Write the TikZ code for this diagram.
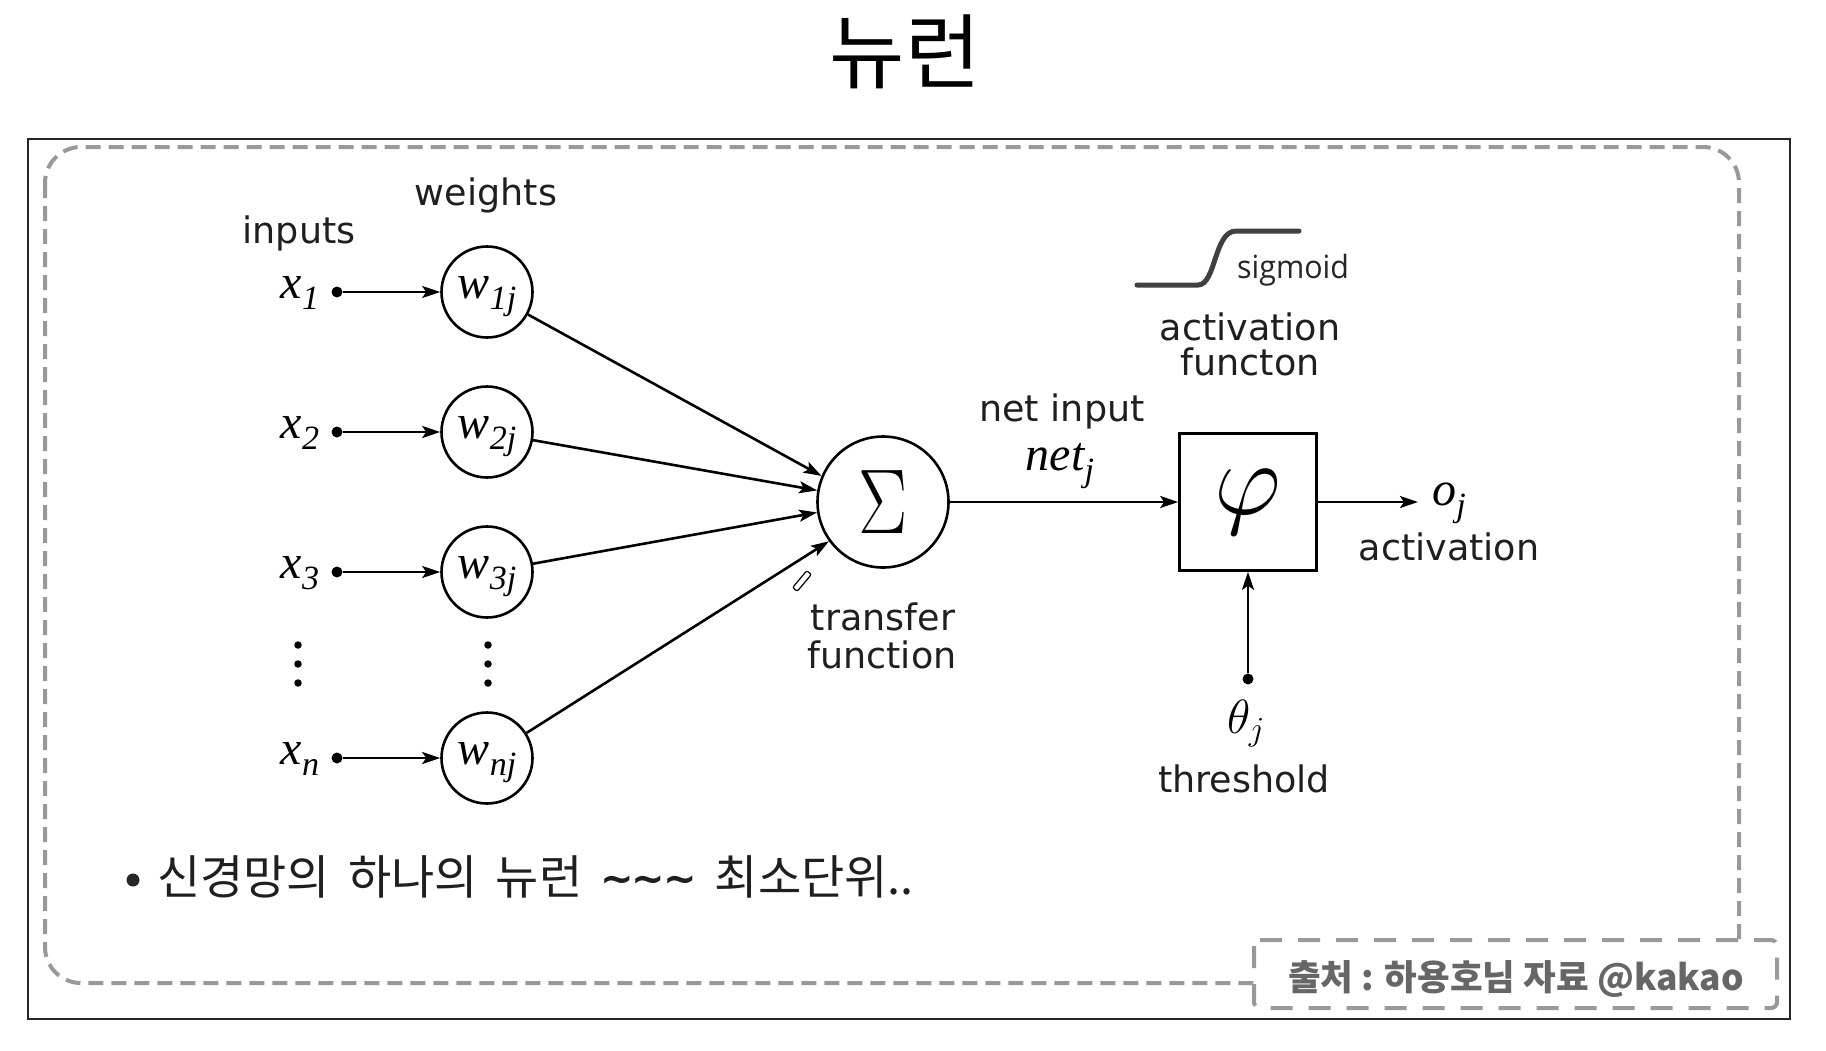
\RequirePackage{fix-cm}
\documentclass[tikz,border=0pt]{standalone}
\usepackage{fontspec}
\setmainfont{DejaVu Sans}
\newfontfamily\krfont{Noto Sans CJK KR}
\newfontfamily\osans{Open Sans}
\newfontfamily\tms{Liberation Serif}
\newcommand{\lab}[2]{{\tms\itshape #1\raisebox{-11pt}{\fontsize{34}{36}\selectfont #2}}}
\usetikzlibrary{arrows.meta}
\tikzset{
  lbl/.style={font=\fontsize{36.5}{40}\selectfont, text=black!88, anchor=base, inner sep=0pt},
  mth/.style={font=\fontsize{48}{50}\selectfont, anchor=base, inner sep=0pt},
  wcirc/.style={circle, draw, line width=2.6pt, minimum size=91pt, inner sep=0pt},
  dotn/.style={circle, fill, inner sep=0pt, minimum size=11pt},
  vdotn/.style={circle, fill, inner sep=0pt, minimum size=7.5pt},
  arr/.style={line width=2.6pt, -{Stealth[length=18pt,width=12pt,inset=4pt]}},
  bigdash/.style={draw=black!40, line width=4pt, dash pattern=on 15pt off 8pt},
  creddash/.style={draw=black!40, line width=4pt, dash pattern=on 22pt off 16pt}
}
\begin{document}
\begin{tikzpicture}[x=1pt,y=-1pt]
\fill[white] (0,0) rectangle (1826,1050);
\useasboundingbox (0,0) rectangle (1826,1050);

% title
\node[font=\krfont\fontsize{82}{90}\selectfont, inner sep=0pt] (title) at (905,52) {뉴런};

% frames
\draw[line width=2.5pt, black!85] (28,139) rectangle (1790,1019);
\draw[bigdash, rounded corners=36pt] (45,147) rectangle (1739,983);
\draw[creddash, fill=white, rounded corners=6pt] (1254,940) rectangle (1777,1008);
\node[font=\krfont\bfseries\fontsize{35.5}{38}\selectfont, text=black!60, inner sep=0pt] (credit) at (1516,979) {출처 : 하용호님 자료 @kakao};

% headers
\node[lbl] (weights) at (486,205) {weights};
\node[lbl] (inputs) at (299,243) {inputs};

% input rows
\foreach \i/\r/\ws in {1/292/1j, 2/432/2j, 3/572/3j, n/758/nj}{
  \node[mth] (x\i) at (300,\r+6) {\lab{x}{\i}};
  \node[dotn] (d\i) at (337,\r) {};
  \node[wcirc] (w\i) at (487,\r) {};
  \node[mth] (wl\i) at (487,\r+6) {\lab{w}{\ws}};
  \draw[arr] (d\i) -- (w\i);
}

% vertical dots
\foreach \k/\yy in {a/645, b/664, c/683}{
  \node[vdotn] (vl\k) at (298,\yy) {};
  \node[vdotn] (vr\k) at (488,\yy) {};
}

% summation
\node[circle, draw, line width=2.6pt, minimum size=131pt, inner sep=0pt,
      font=\fontsize{92}{94}\selectfont] (sigma) at (883,502) {\scalebox{0.8}[1]{$\Sigma$}};
\draw[arr] (w1) -- (sigma.157);
\draw[arr] (w2) -- (sigma.170);
\draw[arr] (w3) -- (sigma.189);
\draw[arr] (wn) -- (sigma.216);

\node[draw, line width=1.2pt, rounded corners=2pt, minimum width=22pt, minimum height=6pt,
      inner sep=0pt, rotate=50] (pencil) at (802,581) {};

\node[lbl] (transfer) at (883,630) {transfer};
\node[lbl] (function) at (882,668) {function};

% activation box
\node[draw, line width=2.6pt, minimum size=137pt, inner sep=0pt,
      font=\fontsize{104}{106}\selectfont] (phibox) at (1248,502) {$\varphi$};
\draw[arr] (sigma) -- (phibox);
\node[lbl] (netinput) at (1062,421) {net input};
\node[mth] (netj) at (1060,470) {\lab{net}{j}};

% output
\coordinate (oend) at (1418,502);
\draw[arr] (phibox.east) -- (oend);
\node[mth] (oj) at (1449,505) {\lab{o}{j}};
\node[lbl] (activation) at (1449,560) {activation};

% threshold
\node[dotn] (thdot) at (1248,679) {};
\draw[arr] (thdot) -- (phibox.south);
\node[font=\fontsize{48}{50}\selectfont, anchor=base, inner sep=0pt] (theta) at (1246,733) {$\theta_j$};
\node[lbl] (threshold) at (1244,792) {threshold};

% sigmoid
\draw[line width=5pt, black!75, line cap=round] (1137,285) -- (1198,285)
   .. controls (1216,285) and (1214,231) .. (1236,231) -- (1299,231);
\node[font=\osans\fontsize{32}{34}\selectfont, text=black!85, anchor=base west, inner sep=0pt] (sigmoid) at (1237,278) {\scalebox{0.95}[1]{sigmoid}};
\node[lbl] (actf1) at (1250,340) {activation};
\node[lbl] (actf2) at (1250,375) {functon};

% bullet
\node[circle, fill=black!85, inner sep=0pt, minimum size=13pt] (bul) at (133,880) {};
\node[font=\krfont\fontsize{47}{52}\selectfont, text=black!88, anchor=west, inner sep=0pt] (bullettext) at (157,877)
  {\spaceskip=18pt\relax 신경망의 하나의 뉴런 {\fontspec{DejaVu Sans}\bfseries\fontsize{40}{40}\selectfont\raisebox{2pt}{\textasciitilde\kern-2pt\textasciitilde\kern-2pt\textasciitilde}} 최소단위..};
\end{tikzpicture}
\end{document}
